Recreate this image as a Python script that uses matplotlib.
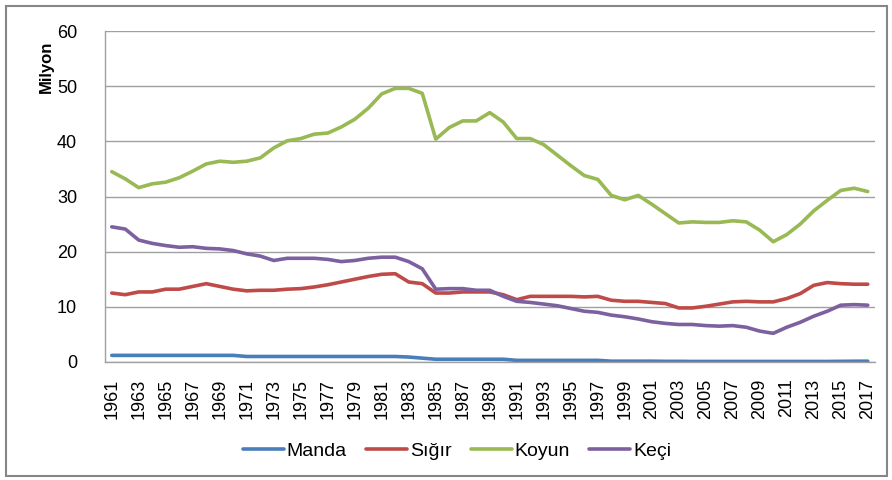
import matplotlib
matplotlib.use("Agg")
import matplotlib.pyplot as plt
from matplotlib.patches import Rectangle

years = list(range(1961, 2018))

manda = [1.2, 1.2, 1.2, 1.2, 1.2, 1.2, 1.2, 1.2, 1.2, 1.2,
         1.0, 1.0, 1.0, 1.0, 1.0, 1.0, 1.0, 1.0, 1.0, 1.0,
         1.0, 1.0, 0.9, 0.7, 0.5, 0.5, 0.5, 0.5, 0.5, 0.5,
         0.3, 0.3, 0.3, 0.3, 0.3, 0.3, 0.3, 0.15, 0.15, 0.15,
         0.15, 0.12, 0.12, 0.1, 0.1, 0.1, 0.1, 0.1, 0.1, 0.1,
         0.1, 0.1, 0.1, 0.1, 0.12, 0.14, 0.15]

sigir = [12.5, 12.2, 12.7, 12.7, 13.2, 13.2, 13.7, 14.2, 13.7, 13.2,
         12.9, 13.0, 13.0, 13.2, 13.3, 13.6, 14.0, 14.5, 15.0, 15.5,
         15.9, 16.0, 14.5, 14.2, 12.5, 12.5, 12.7, 12.7, 12.7, 12.2,
         11.3, 11.9, 11.9, 11.9, 11.9, 11.8, 11.9, 11.2, 11.0, 11.0,
         10.8, 10.6, 9.8, 9.8, 10.1, 10.5, 10.9, 11.0, 10.9, 10.9,
         11.5, 12.4, 13.9, 14.4, 14.2, 14.1, 14.1]

koyun = [34.5, 33.2, 31.6, 32.3, 32.6, 33.4, 34.6, 35.9, 36.4, 36.2,
         36.4, 37.0, 38.8, 40.1, 40.5, 41.3, 41.5, 42.6, 44.0, 46.0,
         48.6, 49.6, 49.6, 48.7, 40.4, 42.5, 43.7, 43.7, 45.2, 43.5,
         40.5, 40.5, 39.4, 37.5, 35.6, 33.8, 33.1, 30.2, 29.4, 30.2,
         28.6, 26.9, 25.2, 25.4, 25.3, 25.3, 25.6, 25.4, 23.9, 21.8,
         23.1, 25.0, 27.4, 29.3, 31.1, 31.5, 30.9]

keci = [24.5, 24.1, 22.1, 21.5, 21.1, 20.8, 20.9, 20.6, 20.5, 20.2,
        19.6, 19.2, 18.4, 18.8, 18.8, 18.8, 18.6, 18.2, 18.4, 18.8,
        19.0, 19.0, 18.2, 16.9, 13.2, 13.3, 13.3, 13.0, 13.0, 11.9,
        11.0, 10.8, 10.5, 10.2, 9.7, 9.2, 9.0, 8.5, 8.2, 7.8,
        7.3, 7.0, 6.8, 6.8, 6.6, 6.5, 6.6, 6.3, 5.6, 5.2,
        6.3, 7.2, 8.3, 9.2, 10.3, 10.4, 10.3]

series_names = ["Manda", "Sığır", "Koyun", "Keçi"]
colors = ["#4A7EBB", "#BE4B48", "#98B954", "#7D60A0"]
y_ticks = [0, 10, 20, 30, 40, 50, 60]
x_labels = [str(y) for y in years[::2]]

plt.rcParams['font.family'] = ['Liberation Sans', 'DejaVu Sans']

W, H = 892, 480
fig = plt.figure(figsize=(W / 100, H / 100), dpi=100)
ax = fig.add_axes([105 / W, 1 - 362 / H, (874.5 - 105) / W, (362 - 31) / H])

idx = list(range(len(years)))
for vals, name, c in zip([manda, sigir, koyun, keci], series_names, colors):
    ax.plot(idx, vals, color=c, lw=2.6, label=name, solid_capstyle='round',
            solid_joinstyle='round')

ax.set_xlim(-0.5, len(years) - 0.5)
ax.set_ylim(0, 60)
ax.set_yticks(y_ticks)
ax.set_yticklabels([str(v) for v in y_ticks])
ax.set_xticks(idx[::2])
ax.set_xticklabels(x_labels, rotation=90)
ax.tick_params(axis='both', length=0, labelsize=13, colors='#000000')
ax.tick_params(axis='y', pad=20)
ax.tick_params(axis='x', pad=12)
ax.grid(axis='y', color='#a0a0a0', lw=1)
ax.set_axisbelow(True)
for s in ['top', 'right']:
    ax.spines[s].set_visible(False)
for s in ['left', 'bottom']:
    ax.spines[s].set_color('#a0a0a0')
    ax.spines[s].set_linewidth(1)

fig.text(46 / W, 1 - 67 / H, "Milyon", rotation=90, fontsize=12,
         fontweight='bold', ha='center', va='center')

fig.legend(loc='center', bbox_to_anchor=(457 / W, 1 - 451 / H), ncol=4,
           frameon=False, fontsize=14, handlelength=2.1, handletextpad=0.15,
           columnspacing=1.0)

fig.patches.append(Rectangle((5.5 / W, 1 - 476 / H), (887 - 5.5) / W, (476 - 5.5) / H,
                             transform=fig.transFigure, fill=False,
                             edgecolor='#868686', lw=1.5))

fig.savefig("out.png", dpi=100)
